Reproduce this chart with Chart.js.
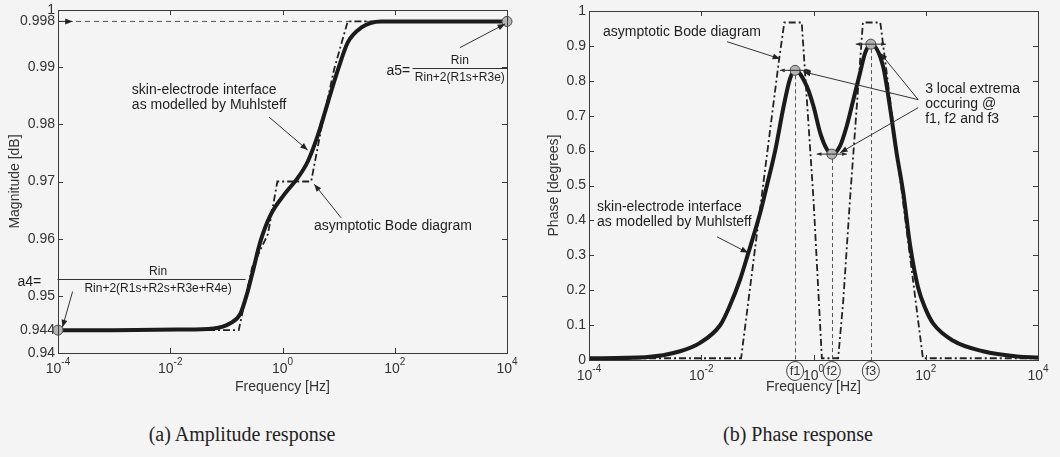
<!DOCTYPE html>
<html><head><meta charset="utf-8">
<script src="https://cdn.jsdelivr.net/npm/chart.js@4.4.1/dist/chart.umd.min.js"></script>
<style>
html,body{margin:0;padding:0;background:#f4f4f5;width:1060px;height:457px;overflow:hidden;}
canvas{position:absolute;top:0;}
#c1{left:0;}
#c2{left:530px;}
.cap{position:absolute;top:423px;font-family:'Liberation Serif','DejaVu Serif',serif;font-size:20px;color:#222;white-space:nowrap;transform:translateX(-50%);}
</style></head><body>
<canvas id="c1" width="530" height="410"></canvas>
<canvas id="c2" width="530" height="410"></canvas>
<div class="cap" style="left:242px">(a) Amplitude response</div>
<div class="cap" style="left:798px">(b) Phase response</div>
<script>
// ---------------- data ----------------
const freqTicks = [1e-4, 1e-2, 1, 1e2, 1e4];
const freqTickExponents = ['-4', '-2', '0', '2', '4'];

const magTicks = [0.94, 0.944, 0.95, 0.96, 0.97, 0.98, 0.99, 0.998, 1];
const magTickLabels = ['0.94', '0.944', '0.95', '0.96', '0.97', '0.98', '0.99', '0.998', '1'];
const magMajorTicks = [0.94, 0.95, 0.96, 0.97, 0.98, 0.99, 1];

const phaseTicks = [0, 0.1, 0.2, 0.3, 0.4, 0.5, 0.6, 0.7, 0.8, 0.9, 1];
const phaseTickLabels = ['0', '0.1', '0.2', '0.3', '0.4', '0.5', '0.6', '0.7', '0.8', '0.9', '1'];

// magnitude: model curve (Muhlsteff)
const magFreq  = [1e-4, 1e-3, 0.015, 0.059, 0.117, 0.178, 0.234, 0.288, 0.407, 0.617, 1.07, 1.86, 2.82, 4.27, 6.46, 9.77, 14.5, 25.1, 57.5, 224, 1e3, 1e4];
const magModel = [0.944, 0.944, 0.9441, 0.9443, 0.9452, 0.9469, 0.9504, 0.9538, 0.9596, 0.9642, 0.9677, 0.9706, 0.9735, 0.9781, 0.9839, 0.9896, 0.9943, 0.9969, 0.998, 0.998, 0.998, 0.998];
// magnitude: asymptotic Bode diagram
const magBodeFreq = [1e-4, 0.166, 0.288, 0.55, 0.81, 3.24, 4.9, 8.3, 14.5, 1e4];
const magBode     = [0.944, 0.944, 0.955, 0.9608, 0.97, 0.97, 0.9792, 0.9896, 0.998, 0.998];
const a4 = 0.944, a5 = 0.998;

// phase: model curve
const phaseFreq  = [1e-4, 1e-3, 0.0042, 0.0095, 0.022, 0.032, 0.049, 0.069, 0.112, 0.148, 0.209, 0.288, 0.38, 0.47, 0.76, 1.0, 1.32, 1.74, 2.14, 2.95, 3.89, 5.13, 6.76, 8.32, 10.5, 17.4, 23.4, 30.2, 39.8, 52.5, 72.4, 100, 135, 309, 1050, 4270, 1e4];
const phaseModel = [0.005, 0.008, 0.025, 0.049, 0.101, 0.154, 0.23, 0.307, 0.421, 0.5, 0.602, 0.72, 0.805, 0.83, 0.784, 0.727, 0.65, 0.603, 0.59, 0.612, 0.669, 0.746, 0.823, 0.88, 0.905, 0.841, 0.717, 0.594, 0.479, 0.33, 0.21, 0.145, 0.105, 0.055, 0.025, 0.01, 0.007];
// phase: asymptotic Bode diagram
const phaseBodeFreq = [1e-4, 0.0513, 0.245, 0.302, 0.617, 1.0, 1.41, 2.75, 3.39, 4.47, 7.59, 15.5, 89, 1e4];
const phaseBode     = [0.005, 0.005, 0.864, 0.967, 0.967, 0.46, 0.005, 0.005, 0.17, 0.46, 0.967, 0.967, 0.005, 0.005];
// local extrema
const extremaFreq  = [0.47, 2.12, 10.5];
const extremaPhase = [0.83, 0.59, 0.905];
const extremaLabels = ['f1', 'f2', 'f3'];

// ---------------- annotations (data coordinates) ----------------
const magNotes = {
  texts: [
    {f: 0.00207, v: 0.98595, lines: ['skin-electrode interface', 'as modelled by Muhlsteff']},
    {f: 3.64, v: 0.9622, lines: ['asymptotic Bode diagram']}
  ],
  arrows: [
    [0.575, 0.98127, 2.81, 0.9755],
    [11.1, 0.96364, 3.68, 0.96953],
    [1445, 0.99341, 9247, 0.99757],
    [1.82e-4, 0.95075, 1.2e-4, 0.94451],
    [1e-4, 0.998, 1.82e-4, 0.998]
  ],
  fracs: [
    {prefix: 'a4=', pf: 1.9e-5, f: 0.00607, v: 0.95301, fL: 9.8e-5, fR: 0.22, num: 'Rin', den: 'Rin+2(R1s+R2s+R3e+R4e)'},
    {prefix: 'a5=', pf: 71, f: 1445, v: 0.98977, fL: 207, fR: 1e4, num: 'Rin', den: 'Rin+2(R1s+R3e)'}
  ]
};
const phaseNotes = {
  texts: [
    {f: 1.78e-4, v: 0.938, lines: ['asymptotic Bode diagram']},
    {f: 1.39e-4, v: 0.439, lines: ['skin-electrode interface', 'as modelled by Muhlsteff']},
    {f: 97.5, v: 0.777, lines: ['3 local extrema', 'occuring @', 'f1, f2 and f3']}
  ],
  arrows: [
    [0.0288, 0.912, 0.254, 0.863],
    [0.0191, 0.353, 0.0683, 0.307],
    [73.3, 0.746, 0.653, 0.826],
    [73.3, 0.723, 2.98, 0.594],
    [73.3, 0.746, 15.4, 0.88]
  ],
  fracs: []
};

// ---------------- drawing helpers ----------------
const FONT = "'Liberation Sans', Arial, Helvetica, sans-serif";
const INK = '#2a2a2a';
const pts = (xs, ys) => xs.map((x, i) => ({x: x, y: ys[i]}));

function drawArrow(ctx, x1, y1, x2, y2, head) {
  ctx.beginPath(); ctx.moveTo(x1, y1); ctx.lineTo(x2, y2); ctx.stroke();
  const a = Math.atan2(y2 - y1, x2 - x1);
  ctx.beginPath();
  ctx.moveTo(x2, y2);
  ctx.lineTo(x2 - head * Math.cos(a - 0.38), y2 - head * Math.sin(a - 0.38));
  ctx.lineTo(x2 - head * Math.cos(a + 0.38), y2 - head * Math.sin(a + 0.38));
  ctx.closePath(); ctx.fill();
}

const framePlugin = {
  id: 'frame',
  afterDatasetsDraw(chart, args, opts) {
    const {ctx, chartArea: a, scales: {x, y}} = chart;
    const X = v => x.getPixelForValue(v), Y = v => y.getPixelForValue(v);
    ctx.save();
    ctx.strokeStyle = '#3a3a3a'; ctx.lineWidth = 1;
    ctx.strokeRect(Math.round(a.left) + 0.5, Math.round(a.top) + 0.5, Math.round(a.right - a.left), Math.round(a.bottom - a.top));
    const L = 5;
    ctx.beginPath();
    freqTicks.forEach(v => {
      const px = Math.round(X(v)) + 0.5;
      ctx.moveTo(px, a.bottom); ctx.lineTo(px, a.bottom - L);
      ctx.moveTo(px, a.top); ctx.lineTo(px, a.top + L);
    });
    opts.yMajor.forEach(v => {
      const py = Math.round(Y(v)) + 0.5;
      ctx.moveTo(a.left, py); ctx.lineTo(a.left + L, py);
      ctx.moveTo(a.right, py); ctx.lineTo(a.right - L, py);
    });
    ctx.stroke();
    // x tick labels: 10 with superscript exponent
    ctx.fillStyle = '#333'; ctx.textBaseline = 'alphabetic'; ctx.textAlign = 'left';
    freqTicks.forEach((v, i) => {
      ctx.font = '14px ' + FONT;
      const wb = ctx.measureText('10').width;
      ctx.font = '10px ' + FONT;
      const we = ctx.measureText(freqTickExponents[i]).width;
      const x0 = X(v) - (wb + we) / 2;
      ctx.font = '14px ' + FONT;
      ctx.fillText('10', x0, a.bottom + 20);
      ctx.font = '10px ' + FONT;
      ctx.fillText(freqTickExponents[i], x0 + wb, a.bottom + 12);
    });
    // circled extrema labels
    if (opts.circled) {
      ctx.font = '13px ' + FONT; ctx.textAlign = 'center'; ctx.textBaseline = 'middle';
      extremaFreq.forEach((f, i) => {
        const cx = X(f), cy = a.bottom + 11;
        ctx.fillStyle = '#f4f4f5';
        ctx.beginPath(); ctx.ellipse(cx, cy, 8.5, 9.5, 0, 0, Math.PI * 2); ctx.fill();
        ctx.strokeStyle = '#444'; ctx.stroke();
        ctx.fillStyle = '#333';
        ctx.fillText(extremaLabels[i], cx, cy + 0.5);
      });
    }
    ctx.restore();
  }
};

const notesPlugin = {
  id: 'notes',
  afterDraw(chart, args, opts) {
    const {ctx, chartArea: a, scales: {x, y}} = chart;
    const X = v => x.getPixelForValue(v), Y = v => y.getPixelForValue(v);
    const n = opts.notes;
    ctx.save();
    // extrema guides
    if (opts.extrema) {
      ctx.strokeStyle = '#555'; ctx.lineWidth = 1; ctx.setLineDash([4, 3]);
      extremaFreq.forEach((f, i) => {
        const px = Math.round(X(f)) + 0.5;
        ctx.beginPath(); ctx.moveTo(px, Y(extremaPhase[i]) + 5); ctx.lineTo(px, a.bottom); ctx.stroke();
      });
      ctx.setLineDash([]);
      ctx.strokeStyle = INK; ctx.fillStyle = INK;
      extremaFreq.forEach((f, i) => {
        const px = X(f), py = Y(extremaPhase[i]);
        drawArrow(ctx, px, py, px - 15, py, 5);
        drawArrow(ctx, px, py, px + 15, py, 5);
      });
    }
    ctx.fillStyle = '#1e1e1e';
    ctx.font = '14px ' + FONT; ctx.textAlign = 'left'; ctx.textBaseline = 'middle';
    n.texts.forEach(t => {
      t.lines.forEach((s, k) => ctx.fillText(s, X(t.f), Y(t.v) + k * 15));
    });
    ctx.strokeStyle = '#333'; ctx.fillStyle = '#222'; ctx.lineWidth = 1;
    n.arrows.forEach(r => drawArrow(ctx, X(r[0]), Y(r[1]), X(r[2]), Y(r[3]), 8));
    n.fracs.forEach(fr => {
      const by = Math.round(Y(fr.v)) + 0.5;
      ctx.strokeStyle = '#333'; ctx.lineWidth = 1;
      ctx.beginPath(); ctx.moveTo(X(fr.fL), by); ctx.lineTo(X(fr.fR), by); ctx.stroke();
      ctx.fillStyle = '#1e1e1e';
      ctx.font = '14px ' + FONT; ctx.textAlign = 'left';
      ctx.fillText(fr.prefix, X(fr.pf), by + 3);
      ctx.font = '12px ' + FONT; ctx.textAlign = 'center';
      ctx.fillText(fr.num, X(fr.f), by - 8);
      ctx.fillText(fr.den, X(fr.f), by + 9);
      ctx.textAlign = 'left';
    });
    ctx.restore();
  }
};

function makeChart(id, cfg) {
  return new Chart(document.getElementById(id), {
    type: 'line',
    data: {datasets: cfg.datasets},
    plugins: [framePlugin, notesPlugin],
    options: {
      responsive: false, animation: false, devicePixelRatio: 1,
      layout: {padding: cfg.padding},
      plugins: {
        legend: {display: false}, tooltip: {enabled: false},
        frame: {yMajor: cfg.yMajor, circled: cfg.circled},
        notes: {notes: cfg.notes, extrema: cfg.circled}
      },
      scales: {
        x: {
          type: 'logarithmic', min: 1e-4, max: 1e4,
          afterBuildTicks: s => { s.ticks = freqTicks.map(v => ({value: v})); },
          ticks: {display: false},
          grid: {display: false, drawTicks: false}, border: {display: false},
          title: {display: true, text: 'Frequency [Hz]', color: '#333', font: {family: FONT, size: 14}, padding: {top: 0, bottom: cfg.xTitlePad}},
          afterFit: s => { s.height = 44; }
        },
        y: {
          type: 'linear', min: cfg.yMin, max: cfg.yMax,
          afterBuildTicks: s => { s.ticks = cfg.yTicks.map(v => ({value: v})); },
          ticks: {autoSkip: false, padding: 3, color: '#333', font: {family: FONT, size: 14, lineHeight: 1},
                  callback: (v, i) => cfg.yLabels[i]},
          grid: {display: false, drawTicks: false}, border: {display: false},
          title: {display: true, text: cfg.yTitle, color: '#333', font: {family: FONT, size: 14}, padding: {top: cfg.yTitlePad, bottom: 0}},
          afterFit: s => { s.width = cfg.yWidth; }
        }
      }
    }
  });
}

const solid = {borderColor: '#1b1b1b', borderWidth: 4, pointRadius: 0, cubicInterpolationMode: 'monotone', fill: false};
const bode = {borderColor: '#222', borderWidth: 1.8, borderDash: [7, 3, 2, 3], pointRadius: 0, tension: 0, fill: false};
const marker = {showLine: false, pointRadius: 5, pointBackgroundColor: '#b4b4b4', pointBorderColor: '#4a4a4a', pointBorderWidth: 1, clip: false};

makeChart('c1', {
  datasets: [
    Object.assign({label: 'a4, a5', data: pts([1e-4, 1e4], [a4, a5])}, marker),
    Object.assign({label: 'skin-electrode interface as modelled by Muhlsteff', data: pts(magFreq, magModel)}, solid),
    Object.assign({label: 'asymptotic Bode diagram', data: pts(magBodeFreq, magBode)}, bode),
    {label: 'a5 level', data: pts([1e-4, 1e4], [a5, a5]), borderColor: '#555', borderWidth: 1, borderDash: [5, 4], pointRadius: 0}
  ],
  padding: {left: 0, right: 23, top: 7, bottom: 13},
  yMin: 0.94, yMax: 1, yTicks: magTicks, yLabels: magTickLabels, yMajor: magMajorTicks,
  yTitle: 'Magnitude [dB]', yTitlePad: 7, yWidth: 58, xTitlePad: 1,
  notes: magNotes, circled: false
});

makeChart('c2', {
  datasets: [
    Object.assign({label: 'local extrema', data: pts(extremaFreq, extremaPhase)}, marker),
    Object.assign({label: 'skin-electrode interface as modelled by Muhlsteff', data: pts(phaseFreq, phaseModel)}, solid),
    Object.assign({label: 'asymptotic Bode diagram', data: pts(phaseBodeFreq, phaseBode)}, bode)
  ],
  padding: {left: 0, right: 22, top: 11, bottom: 6},
  yMin: 0, yMax: 1, yTicks: phaseTicks, yLabels: phaseTickLabels, yMajor: phaseTicks,
  yTitle: 'Phase [degrees]', yTitlePad: 16, yWidth: 59, xTitlePad: 8,
  notes: phaseNotes, circled: true
});
</script>
</body></html>
